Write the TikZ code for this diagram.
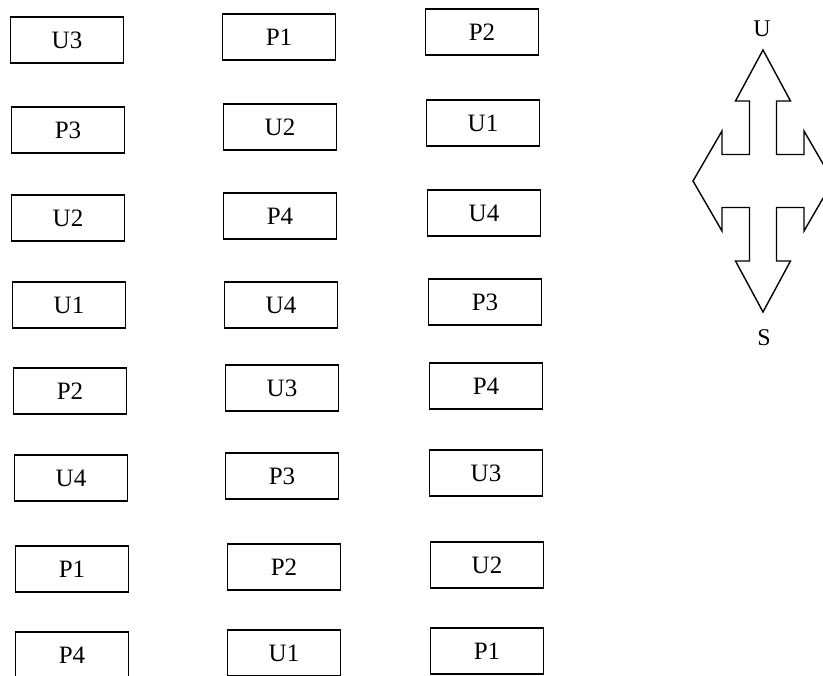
\documentclass[tikz,border=0pt]{standalone}
\usepackage{fontspec}
\setmainfont{Liberation Serif}
\usetikzlibrary{positioning}
\tikzset{
  seatbox/.style={draw=black,line width=1.6pt,
                  minimum width=113pt,minimum height=46pt,
                  inner sep=0pt,font=\fontsize{25}{28}\selectfont},
  compass/.style={draw=black,line width=1.4pt,line join=miter,fill=white},
  compasslabel/.style={inner sep=0pt,font=\fontsize{24}{28}\selectfont}
}

\begin{document}
\begin{tikzpicture}[x=1pt,y=-1pt]
  \useasboundingbox (0,0) rectangle (823,676);
  % left column
  \node[seatbox] (a1) at (67,40) {U3};
  \node[seatbox] (a2) at (68,130) {P3};
  \node[seatbox] (a3) at (68,218) {U2};
  \node[seatbox] (a4) at (69,305) {U1};
  \node[seatbox] (a5) at (70,391) {P2};
  \node[seatbox] (a6) at (71,478) {U4};
  \node[seatbox] (a7) at (72,569) {P1};
  \node[seatbox] (a8) at (72,655) {P4};
  % middle column
  \node[seatbox] (b1) at (279,37) {P1};
  \node[seatbox] (b2) at (280,127) {U2};
  \node[seatbox] (b3) at (280,216) {P4};
  \node[seatbox] (b4) at (281,305) {U4};
  \node[seatbox] (b5) at (282,388) {U3};
  \node[seatbox] (b6) at (282,476) {P3};
  \node[seatbox] (b7) at (284,567) {P2};
  \node[seatbox] (b8) at (284,653) {U1};
  % right column
  \node[seatbox] (c1) at (482,32) {P2};
  \node[seatbox] (c2) at (483,123) {U1};
  \node[seatbox] (c3) at (484,213) {U4};
  \node[seatbox] (c4) at (485,302) {P3};
  \node[seatbox] (c5) at (486,386) {P4};
  \node[seatbox] (c6) at (486,473) {U3};
  \node[seatbox] (c7) at (487,565) {U2};
  \node[seatbox] (c8) at (487,651) {P1};
  % compass
  \draw[compass] (763,50) -- (790.5,101) -- (776.5,101) -- (776.5,154.5)
    -- (804,154.5) -- (804,131) -- (833,181) -- (804,231) -- (804,207.5)
    -- (776.5,207.5) -- (776.5,261) -- (790.5,261) -- (763,312)
    -- (735.5,261) -- (749.5,261) -- (749.5,207.5) -- (722,207.5)
    -- (722,231) -- (693,181) -- (722,131) -- (722,154.5) -- (749.5,154.5)
    -- (749.5,101) -- (735.5,101) -- cycle;
  \coordinate (tipU) at (762,50);
  \coordinate (tipS) at (764,312);
  \node[compasslabel,above=13pt of tipU] (lblU) {U};
  \node[compasslabel,below=17pt of tipS] (lblS) {S};
\end{tikzpicture}
\end{document}
